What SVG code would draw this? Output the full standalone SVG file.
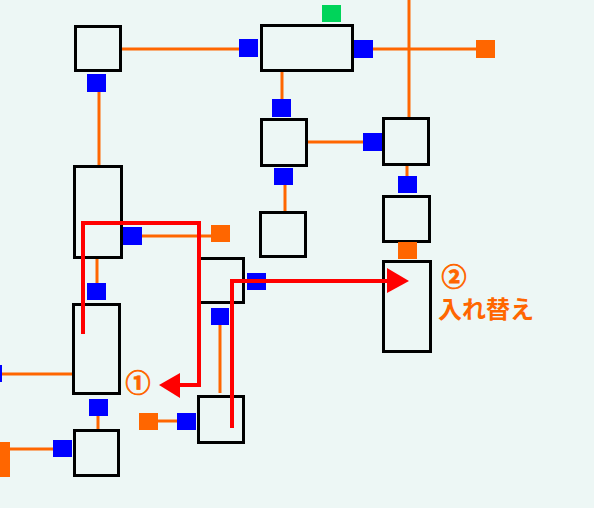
<svg xmlns="http://www.w3.org/2000/svg" width="594" height="508" viewBox="0 0 594 508">
<style>
.box{fill:none;stroke:#000;stroke-width:3}
.bp{fill:#0000FF}
.op{fill:#FF6600}
.gp{fill:#00D45A}
.wire{stroke:#FF6600;stroke-width:3;fill:none}
.red{stroke:#FF0000;stroke-width:4;fill:none}
.lbl{font-family:"Noto Sans CJK JP","Noto Sans",sans-serif;font-weight:bold;fill:#FF6600;font-size:24px}
.num{font-family:"Noto Sans CJK JP","Noto Sans",sans-serif;font-weight:bold;fill:#FF6600;font-size:25px;stroke:#FF6600;stroke-width:0.8}
</style>
<rect width="594" height="508" fill="#EDF7F5"/>
<g id="connectors">
<line class="wire" x1="122" y1="49" x2="239" y2="49"/>
<line class="wire" x1="373" y1="49" x2="476" y2="49"/>
<line class="wire" x1="409" y1="0" x2="409" y2="117"/>
<line class="wire" x1="99" y1="92" x2="99" y2="166"/>
<line class="wire" x1="282" y1="72" x2="282" y2="99"/>
<line class="wire" x1="308" y1="142" x2="363" y2="142"/>
<line class="wire" x1="285" y1="185" x2="285" y2="211"/>
<line class="wire" x1="407" y1="166" x2="407" y2="176"/>
<line class="wire" x1="142" y1="236" x2="211" y2="236"/>
<line class="wire" x1="97" y1="259" x2="97" y2="283"/>
<line class="wire" x1="2" y1="374" x2="72" y2="374"/>
<line class="wire" x1="98" y1="416" x2="98" y2="429"/>
<line class="wire" x1="10" y1="449" x2="53" y2="449"/>
<line class="wire" x1="220" y1="325" x2="220" y2="393"/>
<line class="wire" x1="158" y1="421" x2="177" y2="421"/>
<rect class="op" x="476" y="40" width="19" height="18"/>
</g>
<g id="nodeA"><rect class="box" x="75.5" y="26.5" width="45" height="44"/><rect class="bp" x="87" y="74" width="19" height="18"/></g>
<g id="nodeC"><rect class="box" x="261.5" y="25.5" width="91" height="45"/><rect class="gp" x="322" y="5" width="19" height="17"/><rect class="bp" x="239" y="39" width="19" height="18"/><rect class="bp" x="354" y="40" width="19" height="18"/><rect class="bp" x="272" y="99" width="19" height="18"/></g>
<g id="nodeD"><rect class="box" x="261.5" y="119.5" width="45" height="46"/><rect class="bp" x="274" y="168" width="19" height="17"/></g>
<g id="nodeE"><rect class="box" x="383.5" y="118.5" width="45" height="46"/><rect class="bp" x="363" y="133" width="19" height="18"/><rect class="bp" x="398" y="176" width="19" height="17"/></g>
<g id="nodeF"><rect class="box" x="260.5" y="212.5" width="45" height="44"/></g>
<g id="nodeG"><rect class="box" x="383.5" y="196.5" width="46" height="45"/><rect class="op" x="398" y="242" width="19" height="17"/></g>
<g id="nodeH"><rect class="box" x="383.5" y="261.5" width="47" height="90"/></g>
<g id="nodeB"><rect class="box" x="74.5" y="166.5" width="47" height="91"/><rect class="bp" x="123" y="227" width="19" height="18"/><rect class="op" x="211" y="225" width="19" height="17"/><rect class="bp" x="87" y="283" width="19" height="17"/></g>
<g id="nodeI"><rect class="box" x="73.5" y="304.5" width="46" height="89"/><rect class="bp" x="-17" y="365" width="19" height="17"/><rect class="bp" x="89" y="399" width="19" height="17"/></g>
<g id="nodeJ"><rect class="box" x="74.5" y="430.5" width="44" height="45"/><rect class="bp" x="53" y="440" width="19" height="17"/><rect class="op" x="0" y="442" width="10" height="35"/></g>
<g id="nodeK"><rect class="box" x="198.5" y="258.5" width="45" height="44"/><rect class="bp" x="247" y="273" width="19" height="17"/><rect class="bp" x="211" y="308" width="18" height="17"/></g>
<g id="nodeL"><rect class="box" x="198.5" y="396.5" width="45" height="46"/><rect class="bp" x="177" y="413" width="19" height="17"/><rect class="op" x="139" y="413" width="19" height="17"/></g>
<g id="arrows">
<polyline class="red" points="83,334 83,223 199,223 199,385 178,385"/>
<polygon fill="#FF0000" points="159,385 180,373 180,398"/>
<polyline class="red" points="232,428 232,281 390,281"/>
<polygon fill="#FF0000" points="409,281 387,268 387,293"/>
</g>
<g id="labels">
<text class="num" x="138" y="392" text-anchor="middle">①</text>
<text class="num" x="454" y="286" text-anchor="middle">②</text>
<text class="lbl" x="438" y="318">入れ替え</text>
</g>
</svg>
